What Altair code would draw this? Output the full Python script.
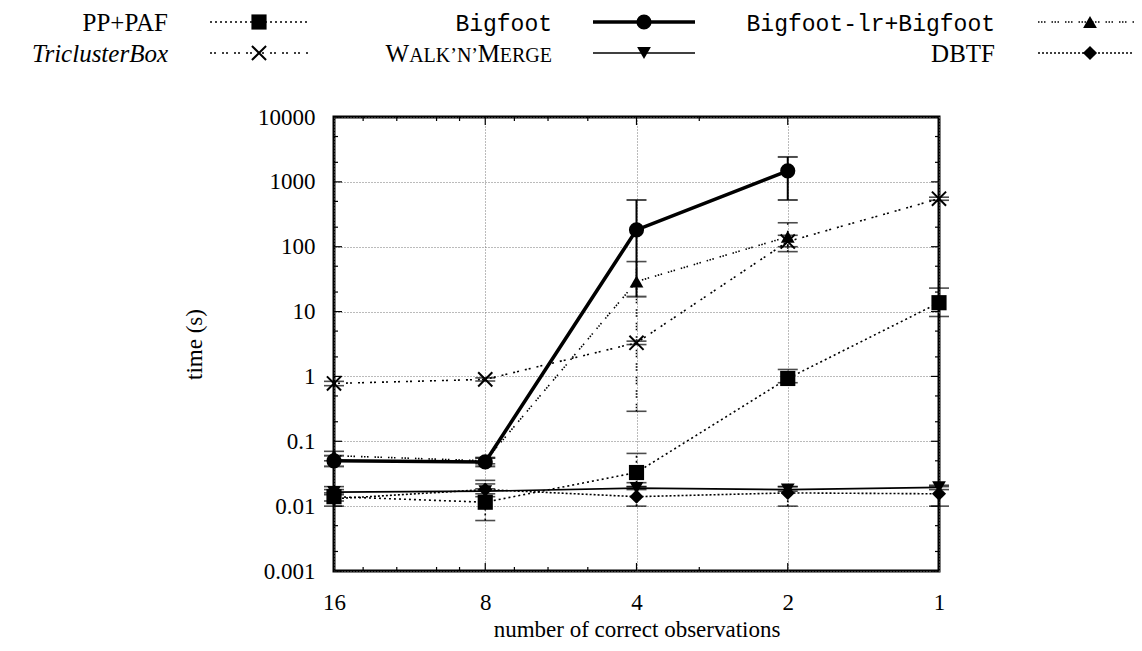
import altair as alt
import pandas as pd

# ---------------- data ----------------
n_vals = [16, 8, 4, 2, 1]

pp_t = [0.014, 0.0115, 0.033, 0.93, 13.7]
pp_lo = [0.012, 0.006, 0.023, 0.80, 8.4]
pp_hi = [0.016, 0.025, 0.065, 1.28, 23.0]

bf_t = [0.050, 0.048, 182, 1480, None]
bf_lo = [0.041, 0.041, 17, 525, None]
bf_hi = [0.060, 0.056, 525, 2420, None]

bflr_t = [0.060, 0.050, 29, 142, None]
bflr_lo = [0.050, 0.045, 0.29, 84, None]
bflr_hi = [0.070, 0.055, 59, 234, None]

tc_t = [0.78, 0.90, 3.3, 120, 550]
tc_lo = [0.72, 0.85, 3.1, 100, 520]
tc_hi = [0.84, 0.95, 3.5, 150, 580]

wm_t = [0.0165, 0.017, 0.019, 0.018, 0.0195]
wm_lo = [0.015, 0.0155, 0.018, 0.017, 0.018]
wm_hi = [0.018, 0.0185, 0.020, 0.020, 0.021]

db_t = [0.013, 0.018, 0.014, 0.016, 0.0155]
db_lo = [0.010, 0.014, 0.010, 0.010, 0.010]
db_hi = [0.020, 0.022, 0.020, 0.020, 0.020]

x_ticks = [16, 8, 4, 2, 1]
x_minor = [14, 12, 10, 9, 7, 6, 5, 3]
y_ticks = [0.001, 0.01, 0.1, 1, 10, 100, 1000, 10000]
y_minor = [m * 10 ** k for k in range(-3, 4) for m in (2, 5)]

SERIF = "Liberation Serif"
MONO = "Liberation Mono"
W, H = 605, 454

series = [
    ("PP+PAF", pp_t, pp_lo, pp_hi,
     dict(dash=[2, 3], width=1.6, shape="square", filled=True, size=230, ew=1.6)),
    ("Bigfoot", bf_t, bf_lo, bf_hi,
     dict(dash=None, width=3.6, shape="circle", filled=True, size=230, ew=2.0)),
    ("Bigfoot-lr+Bigfoot", bflr_t, bflr_lo, bflr_hi,
     dict(dash=[1.5, 1.5, 1.5, 1.5, 1.5, 6], width=1.6, shape="triangle-up", filled=True, size=190, ew=1.6)),
    ("TriclusterBox", tc_t, tc_lo, tc_hi,
     dict(dash=[2, 2, 2, 6], width=1.6, shape="M-1,-1L1,1M-1,1L1,-1", filled=False, size=200, ew=1.6)),
    ("Walk'n'Merge", wm_t, wm_lo, wm_hi,
     dict(dash=None, width=1.7, shape="triangle-down", filled=True, size=190, ew=1.6)),
    ("DBTF", db_t, db_lo, db_hi,
     dict(dash=[2, 2], width=1.6, shape="diamond", filled=True, size=200, ew=1.6)),
]

x_scale = alt.Scale(type="log", base=2, domain=[1, 16], reverse=True, nice=False)
y_scale = alt.Scale(type="log", domain=[0.001, 10000], nice=False)

x_axis = alt.Axis(values=x_ticks, format="d", grid=True, gridDash=[1, 2], gridColor="#777",
                  domain=False, ticks=False, labelFont=SERIF, labelFontSize=23, labelColor="black",
                  labelPadding=20, labelFlush=False, labelOverlap=False,
                  titleFont=SERIF, titleFontSize=23, titleFontWeight="normal", titleColor="black",
                  titleBaseline="alphabetic", titleY=65)
y_axis = alt.Axis(values=y_ticks, labelExpr="format(datum.value, '~g')", grid=True, gridDash=[1, 2],
                  gridColor="#777", domain=False, ticks=False, labelFont=SERIF, labelFontSize=23,
                  labelColor="black", labelPadding=19, labelOverlap=False,
                  titleFont=SERIF, titleFontSize=23, titleFontWeight="normal", titleColor="black",
                  titlePadding=51)

XT = "number of correct observations"
YT = "time (s)"


def X(field="n"):
    return alt.X(f"{field}:Q", scale=x_scale, axis=x_axis, title=XT)


def Y(field="t"):
    return alt.Y(f"{field}:Q", scale=y_scale, axis=y_axis, title=YT)


layers = []

# inward tick marks (gnuplot style)
ymaj = pd.DataFrame({"t": y_ticks})
ymin = pd.DataFrame({"t": y_minor})
xmaj = pd.DataFrame({"n": [8, 4, 2]})
xmin = pd.DataFrame({"n": x_minor})
for d, L in ((ymaj, 8), (ymin, 4)):
    layers.append(alt.Chart(d).mark_rule(color="black", strokeWidth=1.2).encode(
        y=Y(), x=alt.value(0), x2=alt.value(L)))
    layers.append(alt.Chart(d).mark_rule(color="black", strokeWidth=1.2).encode(
        y=Y(), x=alt.value(W - L), x2=alt.value(W)))
for d, L in ((xmaj, 8), (xmin, 4)):
    layers.append(alt.Chart(d).mark_rule(color="black", strokeWidth=1.2).encode(
        x=X(), y=alt.value(H), y2=alt.value(H - L)))
    layers.append(alt.Chart(d).mark_rule(color="black", strokeWidth=1.2).encode(
        x=X(), y=alt.value(0), y2=alt.value(L)))

# data series
for name, t, lo, hi, st in series:
    df = pd.DataFrame({"n": n_vals, "t": t, "lo": lo, "hi": hi}).dropna()
    base = alt.Chart(df)
    lkw = dict(color="black", strokeWidth=st["width"])
    ekw = dict(color="black", strokeWidth=st["ew"])
    if st["dash"]:
        lkw["strokeDash"] = st["dash"]
        ekw["strokeDash"] = st["dash"]
    layers.append(base.mark_line(**lkw).encode(x=X(), y=Y()))
    layers.append(base.mark_rule(**ekw).encode(x=X(), y=Y("lo"), y2="hi:Q"))
    layers.append(base.mark_tick(orient="horizontal", size=20, thickness=st["ew"], color="black").encode(
        x=X(), y=Y("lo")))
    layers.append(base.mark_tick(orient="horizontal", size=20, thickness=st["ew"], color="black").encode(
        x=X(), y=Y("hi")))
    if st["filled"]:
        pm = base.mark_point(shape=st["shape"], size=st["size"], filled=True, color="black", opacity=1)
    else:
        pm = base.mark_point(shape=st["shape"], size=st["size"], filled=False, color="black",
                             opacity=1, strokeWidth=2)
    layers.append(pm.encode(x=X(), y=Y()))

# ---------------- custom legend (gnuplot key, 3 columns x 2 rows) ----------------
one = pd.DataFrame({"k": [0]})
ROWS = [-95, -64]
COLS = [dict(tx=-166, a=-124, b=-26, m=-75),
        dict(tx=218, a=259, b=361, m=310),
        dict(tx=661, a=704, b=808, m=756)]
legend_pos = {
    "PP+PAF": (0, 0), "Bigfoot": (1, 0), "Bigfoot-lr+Bigfoot": (2, 0),
    "TriclusterBox": (0, 1), "Walk'n'Merge": (1, 1), "DBTF": (2, 1),
}


def txt(text, x, y, font=SERIF, size=25, style="normal"):
    return alt.Chart(one).mark_text(text=text, font=font, fontSize=size, fontStyle=style,
                                    align="right", baseline="alphabetic", color="black").encode(
        x=alt.value(x), y=alt.value(y))


for name, t, lo, hi, st in series:
    c, r = legend_pos[name]
    col = COLS[c]
    yy = ROWS[r]
    yb = yy + 9
    if name == "PP+PAF":
        layers.append(txt("PP+PAF", col["tx"], yb))
    elif name == "TriclusterBox":
        layers.append(txt("TriclusterBox", col["tx"], yb, style="italic"))
    elif name == "Bigfoot":
        layers.append(txt("Bigfoot", col["tx"], yb, font=MONO, size=23))
    elif name == "Bigfoot-lr+Bigfoot":
        layers.append(txt("Bigfoot-lr+Bigfoot", col["tx"], yb, font=MONO, size=23))
    elif name == "DBTF":
        layers.append(txt("DBTF", col["tx"], yb))
    elif name == "Walk'n'Merge":
        # small caps rendering: W ALK’N’ M ERGE
        rx = col["tx"]
        layers.append(txt("ERGE", rx, yb, size=20))
        rx -= 52
        layers.append(txt("M", rx, yb, size=25))
        rx -= 22
        layers.append(txt("ALK’N’", rx, yb, size=20))
        rx -= 69
        layers.append(txt("W", rx, yb, size=25))
    rkw = dict(color="black", strokeWidth=st["width"])
    if st["dash"]:
        rkw["strokeDash"] = st["dash"]
    layers.append(alt.Chart(one).mark_rule(**rkw).encode(
        x=alt.value(col["a"]), x2=alt.value(col["b"]), y=alt.value(yy)))
    if st["filled"]:
        pm = alt.Chart(one).mark_point(shape=st["shape"], size=st["size"], filled=True,
                                       color="black", opacity=1)
    else:
        pm = alt.Chart(one).mark_point(shape=st["shape"], size=st["size"], filled=False,
                                       color="black", opacity=1, strokeWidth=2)
    layers.append(pm.encode(x=alt.value(col["m"]), y=alt.value(yy)))

chart = alt.layer(*layers).properties(
    width=W, height=H,
    autosize=alt.AutoSizeParams(type="none"),
    padding={"left": 326, "top": 109, "right": 195, "bottom": 72},
).configure_view(stroke="black", strokeWidth=3)

chart.save("out.html", embed_options={"renderer": "svg", "actions": False})
